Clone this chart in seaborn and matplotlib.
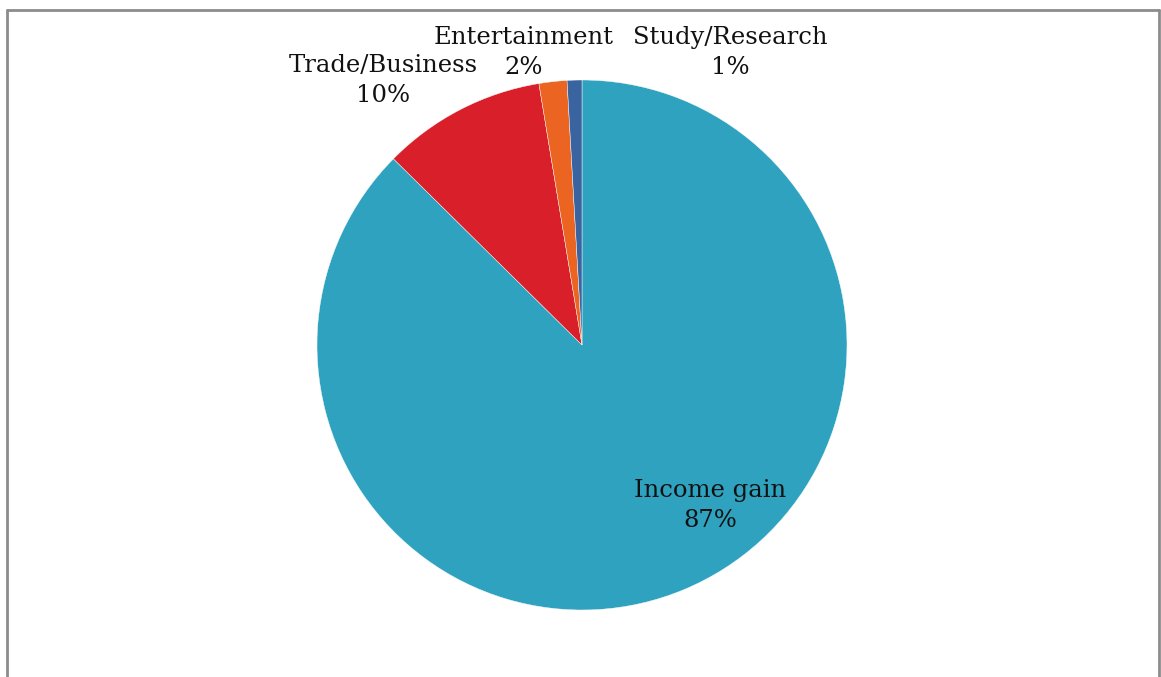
import matplotlib
matplotlib.use("Agg")
import matplotlib.pyplot as plt
from matplotlib.lines import Line2D
import seaborn as sns

# data
categories = ["Income gain", "Trade/Business", "Entertainment", "Study/Research"]
shares = [87.4, 10.0, 1.7, 0.9]
pct_labels = ["87%", "10%", "2%", "1%"]
colors = ["#2ea2bf", "#d91f2a", "#ec6421", "#3a64a0"]

sns.set_theme(style="white")
plt.rcParams["font.family"] = ["DejaVu Serif"]

fig = plt.figure(figsize=(11.61, 6.77), dpi=100)
W, H = 1161, 677
r = 265
cx, cy = 582, 345
ax = fig.add_axes([(cx - r) / W, (H - cy - r) / H, 2 * r / W, 2 * r / H])

ax.pie(shares, colors=sns.color_palette(colors), startangle=90, counterclock=False,
       radius=1, wedgeprops=dict(linewidth=0.3, edgecolor="white"))
ax.set_xlim(-1, 1)
ax.set_ylim(-1, 1)
ax.set_aspect("equal")
ax.axis("off")

# label positions (pie radius units): name line, percent line below it
label_pos = [(0.483, -0.548), (-0.751, 1.053), (-0.219, 1.159), (0.558, 1.159)]
gap = 30 / r
for name, pct, (x, y) in zip(categories, pct_labels, label_pos):
    ax.text(x, y, name, ha="center", va="center", fontsize=17.5,
            color="#111111", clip_on=False)
    ax.text(x, y - gap, pct, ha="center", va="center", fontsize=17.5,
            color="#111111", clip_on=False)

# frame around the chart area
grey = "#8c8c8c"
fig.add_artist(Line2D([7 / W, 7 / W], [0, 1 - 10 / H], color=grey, lw=2, transform=fig.transFigure))
fig.add_artist(Line2D([7 / W, 1159 / W], [1 - 10 / H, 1 - 10 / H], color=grey, lw=2, transform=fig.transFigure))
fig.add_artist(Line2D([1159 / W, 1159 / W], [0, 1 - 10 / H], color=grey, lw=2, transform=fig.transFigure))

fig.savefig("out.png", dpi=100)
